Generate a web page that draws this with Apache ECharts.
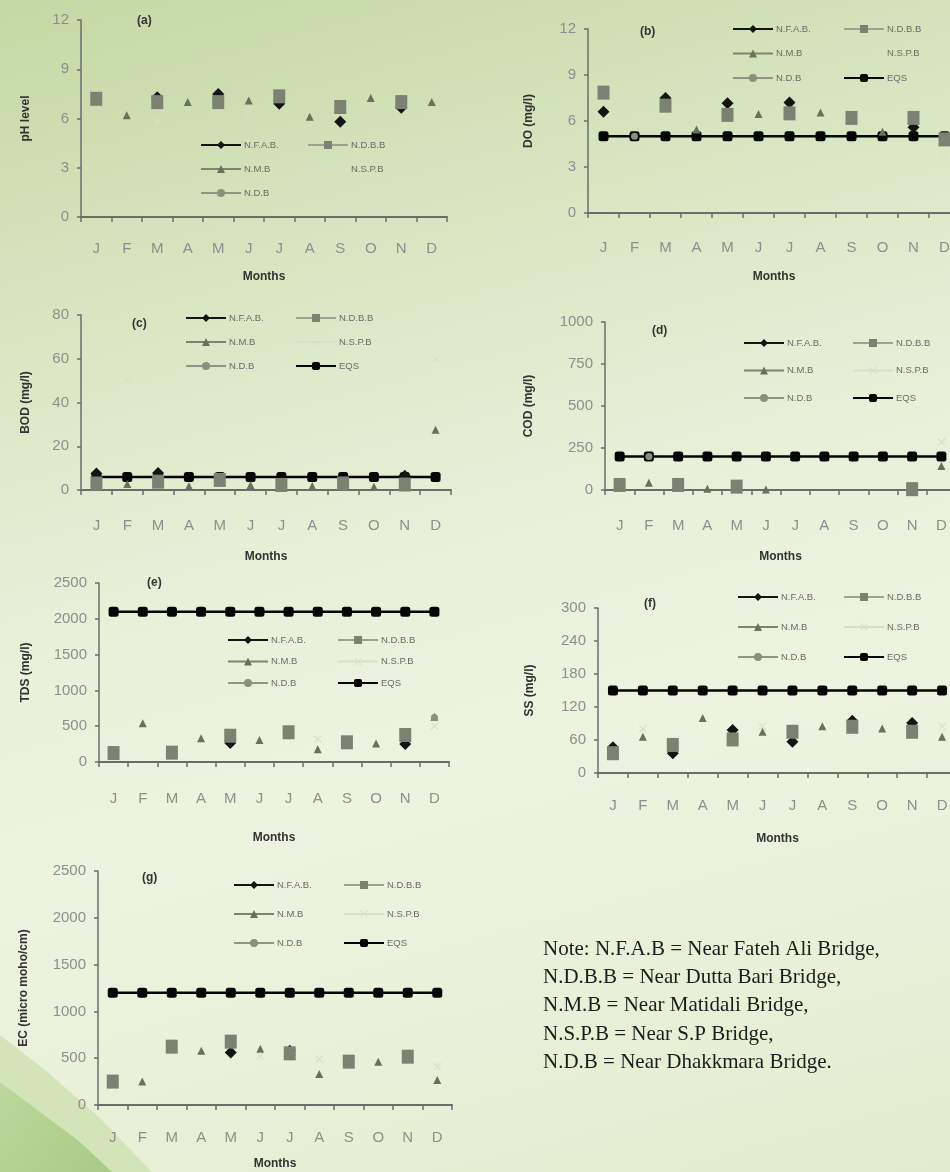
<!DOCTYPE html>
<html>
<head>
<meta charset="utf-8">
<title>Water quality - monthly</title>
<script src="https://cdn.jsdelivr.net/npm/echarts@6/dist/echarts.min.js"></script>
<style>
  html, body { margin: 0; padding: 0; }
  body {
    width: 950px; height: 1172px; overflow: hidden;
    background: linear-gradient(165deg, #c4d8a4 0%, #d6e5bf 22%, #e8f0d8 45%, #eef3e0 62%, #e9f0d7 82%, #e3ebcd 100%);
  }
  /* etwas breiter als das Fenster, damit die rechten Achsen über den Rand laufen */
  #chart { width: 975px; height: 1172px; }
</style>
</head>
<body>
<div id="chart"></div>
<script>
// Monate (x-Achse)
const months = ['J', 'F', 'M', 'A', 'M', 'J', 'J', 'A', 'S', 'O', 'N', 'D'];

// (a) pH
const phNFAB = [null, null, 7.3, null, 7.5, null, 6.9, null, 5.8, null, 6.65, null];
const phNDBB = [7.2, null, 7.0, null, 7.0, null, 7.35, null, 6.7, null, 7.0, null];
const phNMB  = [null, 6.2, null, 7.0, null, 7.1, null, 6.1, null, 7.25, null, 7.0];
const phNSPB = [null, null, 5.8, null, null, 6.4, null, null, null, null, null, null];
const phNDB  = [null, null, null, null, null, null, null, null, null, null, null, null];

// (b) DO (mg/l)
const doNFAB = [6.6, null, 7.5, null, 7.15, null, 7.2, null, null, null, 5.6, null];
const doNDBB = [7.85, null, 7.0, null, 6.4, null, 6.5, null, 6.2, null, 6.2, 4.8];
const doNMB  = [null, null, null, 5.45, null, 6.45, null, 6.55, null, 5.3, null, null];
const doNSPB = [null, 4.2, null, null, null, null, null, null, null, null, null, 3.6];
const doNDB  = [null, 5.0, null, null, null, null, null, null, null, null, null, null];
const doEQS  = [5, 5, 5, 5, 5, 5, 5, 5, 5, 5, 5, 5];

// (c) BOD (mg/l)
const bodNFAB = [7.5, null, 7.8, null, null, null, null, null, null, null, 6.5, null];
const bodNDBB = [3, null, 3.8, null, 4.6, null, 2.3, null, 3, null, 2.5, null];
const bodNMB  = [null, 2.8, null, 1.8, null, 2.3, null, 1.8, null, 1.5, null, 27.5];
const bodNSPB = [null, 50.5, null, null, null, null, null, null, null, null, null, 60];
const bodNDB  = [null, null, null, null, null, null, null, null, null, null, null, null];
const bodEQS  = [6, 6, 6, 6, 6, 6, 6, 6, 6, 6, 6, 6];

// (d) COD (mg/l)
const codNFAB = [null, null, null, null, null, null, null, null, null, null, null, null];
const codNDBB = [30, null, 30, null, 20, null, null, null, null, null, 5, null];
const codNMB  = [null, 43, null, 8, null, 3, null, null, null, null, null, 143];
const codNSPB = [null, null, null, null, null, null, null, null, null, null, null, 285];
const codNDB  = [null, 200, null, null, null, null, null, null, null, null, null, null];
const codEQS  = [200, 200, 200, 200, 200, 200, 200, 200, 200, 200, 200, 200];

// (e) TDS (mg/l)
const tdsNFAB = [null, null, null, null, 265, null, null, null, null, null, 250, null];
const tdsNDBB = [125, null, 130, null, 367, null, 415, null, 275, null, 377, null];
const tdsNMB  = [null, 540, null, 330, null, 307, null, 178, null, 260, null, 633];
const tdsNSPB = [null, null, null, null, null, null, null, 320, null, null, null, 500];
const tdsNDB  = [null, null, null, null, null, null, null, null, null, null, null, 620];
const tdsEQS  = [2100, 2100, 2100, 2100, 2100, 2100, 2100, 2100, 2100, 2100, 2100, 2100];

// (f) SS (mg/l)
const ssNFAB = [47, null, 36, null, 78, null, 57, null, 95, null, 91, null];
const ssNDBB = [36, null, 51, null, 61, null, 75, null, 84, null, 75, null];
const ssNMB  = [null, 66, null, 100, null, 75, null, 85, null, 81, null, 66];
const ssNSPB = [null, 80, null, null, null, 85, null, null, null, null, null, 85];
const ssNDB  = [null, null, null, null, null, null, null, null, null, null, null, null];
const ssEQS  = [150, 150, 150, 150, 150, 150, 150, 150, 150, 150, 150, 150];

// (g) EC (micro moho/cm)
const ecNFAB = [null, null, null, null, 560, null, 580, null, null, null, null, null];
const ecNDBB = [250, null, 623, null, 677, null, 552, null, 463, null, 516, null];
const ecNMB  = [null, 250, null, 580, null, 600, null, 330, null, 463, null, 267];
const ecNSPB = [null, null, null, null, null, 520, null, 490, null, null, null, 410];
const ecNDB  = [null, null, null, null, null, null, null, null, null, null, null, null];
const ecEQS  = [1200, 1200, 1200, 1200, 1200, 1200, 1200, 1200, 1200, 1200, 1200, 1200];

const noteLines = [
    'Note: N.F.A.B = Near Fateh Ali Bridge,',
    'N.D.B.B = Near Dutta Bari Bridge,',
    'N.M.B = Near Matidali Bridge,',
    'N.S.P.B = Near S.P Bridge,',
    'N.D.B = Near Dhakkmara Bridge.'
];

// Darstellung der Messstellen
const xPath = 'path://M1,0L5,4L9,0L10,1L6,5L10,9L9,10L5,6L1,10L0,9L4,5L0,1Z';
const sites = [
    { name: 'N.F.A.B.', symbol: 'diamond', size: 12, color: '#141414', line: '#141414', lw: 2.5 },
    { name: 'N.D.B.B', symbol: 'rect', size: [12, 14], color: '#7b8272', line: '#9ca392', lw: 2 },
    { name: 'N.M.B', symbol: 'triangle', size: 8, color: '#66725a', line: '#7a8470', lw: 2 },
    { name: 'N.S.P.B', symbol: xPath, size: 8, color: '#d9e0c8', line: '#d9e0c8', lw: 1.5 },
    { name: 'N.D.B', symbol: 'circle', size: 7, color: '#89917c', line: '#8e9683', lw: 2 },
    { name: 'EQS', symbol: 'roundRect', size: 10, color: '#060606', line: '#060606', lw: 2.5 }
];

const narrow = '"Liberation Sans Narrow", "Liberation Sans", Arial, sans-serif';

// Panel-Layout (Pixel): grid = [left, top, width, height]
const panels = [
    { tag: '(a)', tagPos: [137, 15], grid: [81, 20, 366, 197], yName: 'pH level', max: 12, step: 3, yGap: 49,
      lblMargin: 24, xGap: 54, legend: [200, 307, 140, 24], data: [phNFAB, phNDBB, phNMB, phNSPB, phNDB, null] },
    { tag: '(b)', tagPos: [640, 26], grid: [588, 29, 372, 184], yName: 'DO (mg/l)', max: 12, step: 3, yGap: 53,
      lblMargin: 27, xGap: 58, legend: [732, 843, 24, 24.5], data: [doNFAB, doNDBB, doNMB, doNSPB, doNDB, doEQS] },
    { tag: '(c)', tagPos: [132, 318], grid: [81, 315, 370, 175], yName: 'BOD (mg/l)', max: 80, step: 20, yGap: 49,
      lblMargin: 28, xGap: 61, legend: [185, 295, 313, 24], data: [bodNFAB, bodNDBB, bodNMB, bodNSPB, bodNDB, bodEQS] },
    { tag: '(d)', tagPos: [652, 325], grid: [605, 322, 351, 168], yName: 'COD (mg/l)', max: 1000, step: 250, yGap: 70,
      lblMargin: 28, xGap: 61, legend: [743, 852, 338, 27.5], data: [codNFAB, codNDBB, codNMB, codNSPB, codNDB, codEQS] },
    { tag: '(e)', tagPos: [147, 577], grid: [99, 583, 350, 179], yName: 'TDS (mg/l)', max: 2500, step: 500, yGap: 67,
      lblMargin: 29, xGap: 70, legend: [227, 337, 635, 21.5], data: [tdsNFAB, tdsNDBB, tdsNMB, tdsNSPB, tdsNDB, tdsEQS] },
    { tag: '(f)', tagPos: [644, 598], grid: [598, 608, 359, 165], yName: 'SS (mg/l)', max: 300, step: 60, yGap: 62,
      lblMargin: 25, xGap: 60, legend: [737, 843, 592, 30], data: [ssNFAB, ssNDBB, ssNMB, ssNSPB, ssNDB, ssEQS] },
    { tag: '(g)', tagPos: [142, 872], grid: [98, 871, 354, 234], yName: 'EC (micro moho/cm)', max: 2500, step: 500, yGap: 68,
      lblMargin: 25, xGap: 53, legend: [233, 343, 880, 29], data: [ecNFAB, ecNDBB, ecNMB, ecNSPB, ecNDB, ecEQS] }
];

const grids = [], xAxes = [], yAxes = [], series = [], legends = [], titles = [];

panels.forEach((p, i) => {
    grids.push({ left: p.grid[0], top: p.grid[1], width: p.grid[2], height: p.grid[3], containLabel: false });
    xAxes.push({
        type: 'category', gridIndex: i, data: months, boundaryGap: true,
        name: 'Months', nameLocation: 'middle', nameGap: p.xGap,
        nameTextStyle: { fontSize: 12, fontWeight: 'bold', color: '#333', fontFamily: 'Arial, sans-serif' },
        axisLine: { lineStyle: { color: '#6c6c6c', width: 2 } },
        axisTick: { show: true, length: 5, lineStyle: { color: '#6c6c6c', width: 1.5 }, interval: 0 },
        axisLabel: { margin: p.lblMargin, fontSize: 15, color: '#8e8e8e', fontFamily: narrow, interval: 0 },
        splitLine: { show: false }
    });
    yAxes.push({
        type: 'value', gridIndex: i, min: 0, max: p.max, interval: p.step,
        name: p.yName, nameLocation: 'middle', nameGap: p.yGap,
        nameTextStyle: { fontSize: 12, fontWeight: 'bold', color: '#333', fontFamily: 'Arial, sans-serif' },
        axisLine: { show: true, lineStyle: { color: '#6c6c6c', width: 1.5 } },
        axisTick: { show: true, length: 4, lineStyle: { color: '#6c6c6c', width: 1.5 } },
        axisLabel: { margin: 12, fontSize: 15, color: '#8e8e8e', fontFamily: narrow, formatter: v => String(v) },
        splitLine: { show: false }
    });

    p.data.forEach((vals, k) => {
        if (!vals) return;
        const s = sites[k];
        const isEqs = s.name === 'EQS';
        series.push({
            name: s.name, type: 'line', xAxisIndex: i, yAxisIndex: i, data: vals,
            symbol: s.symbol, symbolSize: s.size, showSymbol: true, showAllSymbol: true,
            connectNulls: false, silent: true,
            itemStyle: { color: s.color, borderWidth: 0 },
            lineStyle: { color: s.line, width: s.lw, opacity: isEqs ? 1 : 0 },
            z: isEqs ? 3 : 4 + (k === 1 ? 1 : 0),
            animation: false
        });
    });

    const names = sites.map(s => s.name);
    const leftNames = [names[0], names[2], names[4]];
    const rightNames = p.data[5] ? [names[1], names[3], names[5]] : [names[1], names[3]];
    [[p.legend[0], leftNames], [p.legend[1], rightNames]].forEach(([lx, list]) => {
        legends.push({
            data: list, orient: 'vertical', left: lx, top: p.legend[2], padding: 0,
            itemWidth: 40, itemHeight: 10, itemGap: p.legend[3] - 10,
            selectedMode: false,
            lineStyle: { opacity: 1 },
            textStyle: { fontSize: 9.5, lineHeight: 10, color: '#6a6a6a', fontFamily: narrow, padding: [0, 0, 0, -2] }
        });
    });

    titles.push({
        text: p.tag, left: p.tagPos[0], top: p.tagPos[1], padding: 0,
        textStyle: { fontSize: 12, fontWeight: 'bold', color: '#333', fontFamily: 'Arial, sans-serif' }
    });
});

const chart = echarts.init(document.getElementById('chart'), null, { renderer: 'canvas' });

chart.setOption({
    backgroundColor: 'transparent',
    animation: false,
    title: titles,
    legend: legends,
    grid: grids,
    xAxis: xAxes,
    yAxis: yAxes,
    series: series,
    graphic: [
        {
            type: 'polygon', z: -10, silent: true,
            shape: { points: [[0, 1035], [45, 1070], [100, 1118], [152, 1172], [0, 1172]] },
            style: { fill: '#d3e4b9' }
        },
        {
            type: 'polygon', z: -9, silent: true,
            shape: { points: [[0, 1082], [40, 1112], [80, 1142], [112, 1172], [0, 1172]] },
            style: {
                fill: new echarts.graphic.LinearGradient(0, 0, 1, 1, [
                    { offset: 0, color: '#bdd79c' },
                    { offset: 1, color: '#a9cb85' }
                ])
            }
        },
        {
            type: 'text', left: 543, top: 935, silent: true,
            style: {
                text: noteLines.join('\n'),
                font: '21px "Liberation Serif", "Times New Roman", serif',
                lineHeight: 28.3,
                fill: '#1c1c1c'
            }
        }
    ]
});

window.addEventListener('resize', () => chart.resize());
</script>
</body>
</html>
